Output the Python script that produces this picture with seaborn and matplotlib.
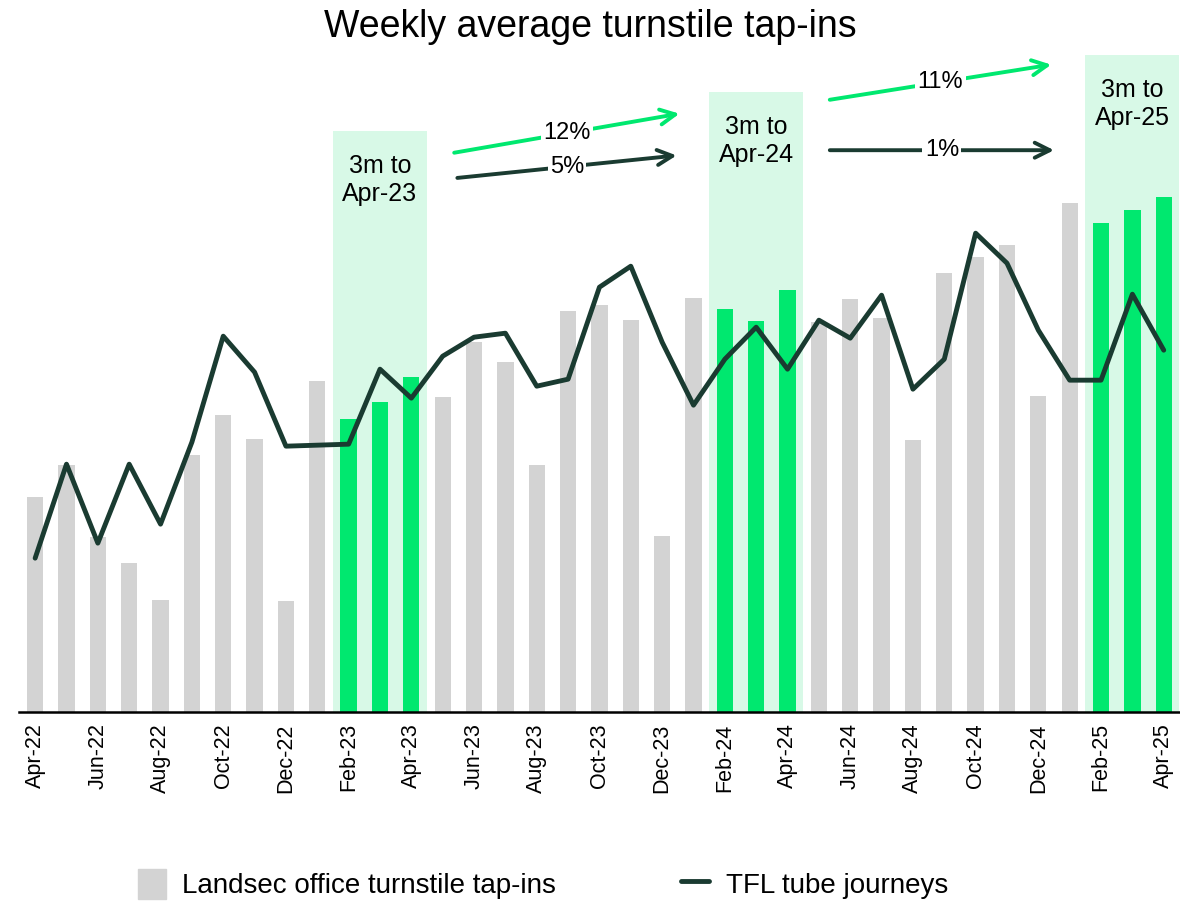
import numpy as np
import pandas as pd
import seaborn as sns
import matplotlib.pyplot as plt
from matplotlib.patches import Patch
from matplotlib.lines import Line2D

# ---------- data ----------
months = ['Apr-22', 'May-22', 'Jun-22', 'Jul-22', 'Aug-22', 'Sep-22', 'Oct-22', 'Nov-22', 'Dec-22',
          'Jan-23', 'Feb-23', 'Mar-23', 'Apr-23', 'May-23', 'Jun-23', 'Jul-23', 'Aug-23', 'Sep-23',
          'Oct-23', 'Nov-23', 'Dec-23', 'Jan-24', 'Feb-24', 'Mar-24', 'Apr-24', 'May-24', 'Jun-24',
          'Jul-24', 'Aug-24', 'Sep-24', 'Oct-24', 'Nov-24', 'Dec-24', 'Jan-25', 'Feb-25', 'Mar-25',
          'Apr-25']
landsec = [215, 247, 175, 149, 112, 257, 297, 273, 111, 331, 293, 310, 335, 315, 370, 350, 247,
           401, 407, 392, 176, 414, 403, 391, 422, 390, 413, 394, 272, 439, 455, 467, 316, 509,
           489, 502, 515]
tfl = [154, 248, 169, 248, 188, 270, 376, 340, 266, 267, 268, 343, 314, 356, 375, 379, 326, 333,
       425, 446, 370, 307, 353, 385, 343, 392, 374, 417, 323, 353, 479, 449, 382, 332, 332, 418,
       362]
highlight = ['Feb-23', 'Mar-23', 'Apr-23', 'Feb-24', 'Mar-24', 'Apr-24', 'Feb-25', 'Mar-25', 'Apr-25']
windows = ['3m to\nApr-23', '3m to\nApr-24', '3m to\nApr-25']
tap_growth = ['12%', '11%']
tfl_growth = ['5%', '1%']

GREY = '#d3d3d3'
GREEN = '#00e86f'
LIGHT = '#d8f9e7'
DARK = '#1a3b31'

sns.set_theme(style='white')
plt.rcParams['font.family'] = ['Liberation Sans', 'DejaVu Sans']
plt.rcParams['text.color'] = 'black'

df = pd.DataFrame({'month': months, 'landsec': landsec, 'tfl': tfl})
df['x'] = np.arange(len(df))
df['grp'] = np.where(df['month'].isin(highlight), 'hl', 'base')

fig = plt.figure(figsize=(11.8, 9.13), dpi=100)
ax = fig.add_axes([0.0165, 0.22, 0.983, 0.725])

# shaded 3 month windows
span_tops = [581, 620, 657]
starts = [months.index(m) for m in highlight[::3]]
for s, top, lab in zip(starts, span_tops, windows):
    ax.fill_between([s - 0.5, s + 2.5], 0, top, color=LIGHT, lw=0, zorder=0)
    ax.text(s + 1, top - 49, lab, ha='center', va='center', fontsize=18, linespacing=1.2)

sns.barplot(data=df, x='x', y='landsec', hue='grp', palette={'base': GREY, 'hl': GREEN},
            width=0.52, dodge=False, legend=False, saturation=1, linewidth=0, ax=ax, zorder=2)
sns.lineplot(data=df, x='x', y='tfl', color=DARK, lw=3.5, ax=ax, zorder=3)

# growth arrows
arrows = [
    ((13.28, 559), (20.64, 599), tap_growth[0], GREEN),
    ((13.38, 534), (20.55, 557), tfl_growth[0], DARK),
    ((25.26, 612), (32.5, 648), tap_growth[1], GREEN),
    ((25.26, 562), (32.59, 562), tfl_growth[1], DARK),
]
for p0, p1, lab, col in arrows:
    ax.annotate('', xy=p1, xytext=p0,
                arrowprops=dict(arrowstyle='->,head_length=0.9,head_width=0.45', color=col, lw=2.8))
    mx, my = (p0[0] + p1[0]) / 2, (p0[1] + p1[1]) / 2
    ax.text(mx, my, lab, ha='center', va='center', fontsize=17,
            bbox=dict(boxstyle='square,pad=0.1', fc='white', ec='none'))

ax.set_xlim(-0.5, len(months) - 0.5)
ax.set_ylim(0, 662)
ax.set_xticks(df['x'][::2])
ax.set_xticklabels(months[::2], rotation=90, fontsize=15.5, color='black')
ax.set_yticks([])
ax.set_xlabel('')
ax.set_ylabel('')
for side in ['top', 'right', 'left']:
    ax.spines[side].set_visible(False)
ax.spines['bottom'].set_color('black')
ax.spines['bottom'].set_linewidth(1.8)
ax.tick_params(axis='x', length=0, pad=8)

fig.suptitle('Weekly average turnstile tap-ins', fontsize=27, y=0.99)

handles = [Patch(color=GREY), Line2D([], [], color=DARK, lw=3.5)]
fig.legend(handles, ['Landsec office turnstile tap-ins', 'TFL tube journeys'],
           loc='lower center', bbox_to_anchor=(0.46, -0.012), ncol=2, frameon=False,
           fontsize=20, handlelength=1.0, handleheight=1.3, handletextpad=0.6, columnspacing=4.5)

fig.savefig('out.png', dpi=100)
